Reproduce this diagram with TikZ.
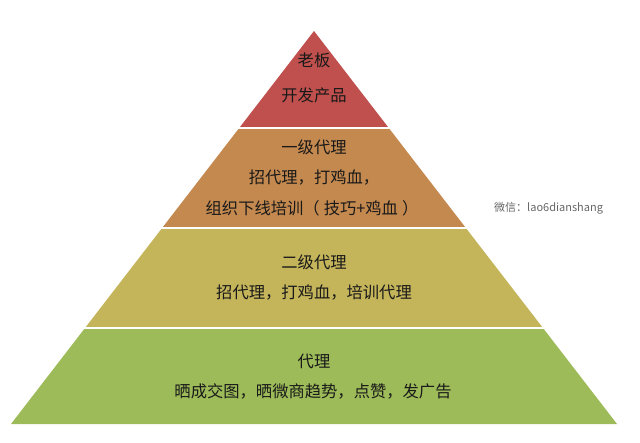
\documentclass[tikz,border=0pt]{standalone}
\usepackage{fontspec}
\setmainfont{Noto Sans CJK SC}

\definecolor{bossred}{HTML}{C0504D}
\definecolor{firstorange}{HTML}{C4894F}
\definecolor{secondolive}{HTML}{C4B45A}
\definecolor{agentgreen}{HTML}{9DBB59}

\begin{document}
\begin{tikzpicture}[x=1pt,y=-1pt,
  label/.style={inner sep=0pt, text=black!90, font=\fontsize{16.3}{16}\selectfont},
  note/.style={inner sep=0pt, text=black!60, font=\fontsize{11}{11}\selectfont}]

\useasboundingbox (0,0) rectangle (640,442);

% draw the pyramid
\coordinate (top) at (314,31);
\coordinate (left) at (11,424);
\coordinate (right) at (617,424);

\begin{scope}
\clip (top) -- (left) -- (right) -- cycle;
\fill [bossred] (0,30) rectangle (640,126.5);
\fill [firstorange] (0,129) rectangle (640,226.5);
\fill [secondolive] (0,229) rectangle (640,326.5);
\fill [agentgreen] (0,329) rectangle (640,425);
\end{scope}

% texts of each level
\node (boss) [label] at (314,60) {老板};
\node (bosswork) [label] at (314,95) {开发产品};

\node (first) [label] at (314,147) {一级代理};
\node (firstwork) [label] at (314,177) {招代理，打鸡血，};
\node (firsttrain) [label] at (312,208) {组织下线培训（\kern4pt技巧+鸡血\kern4pt）};

\node (second) [label] at (314,262) {二级代理};
\node (secondwork) [label] at (314,292) {招代理，打鸡血，培训代理};

\node (agent) [label] at (314,361) {代理};
\node (agentwork) [label] at (313,391) {晒成交图，晒微商趋势，点赞，发广告};

\node (wechat) [note, anchor=west] at (494,208) {微信：lao6dianshang};

\end{tikzpicture}
\end{document}
